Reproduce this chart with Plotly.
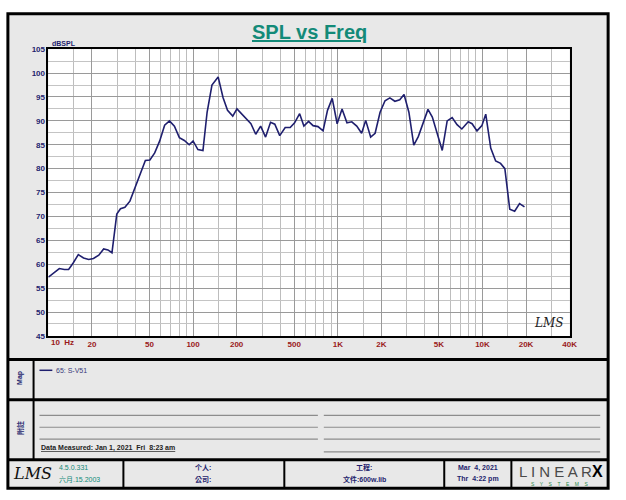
import numpy as np
import plotly.graph_objects as go

# ---------------- data ----------------
freq_hz = [10.0, 11.0, 11.9, 12.9, 13.8, 14.8, 16.1, 17.5, 19.0, 20.5, 22.3, 24.1, 25.8, 27.5,
           29.7, 31.5, 33.8, 36.6, 40.7, 44.0, 46.8, 50.3, 54.3, 58.8, 63.6, 68.7, 74.3, 80.4,
           87.0, 94.0, 100, 108, 117, 125, 135, 149, 161, 173, 188, 201, 217, 235, 251, 271,
           293, 317, 343, 367, 397, 433, 469, 503, 545, 583, 628, 675, 730, 791, 849, 915,
           990, 1070, 1157, 1250, 1352, 1461, 1559, 1687, 1811, 1960, 2120, 2290, 2480, 2680,
           2870, 3100, 3350, 3600, 3880, 4200, 4500, 5270, 5700, 6170, 6670, 7200, 7970, 8470,
           9160, 9900, 10530, 11400, 12330, 13330, 14270, 15430, 16680, 18030, 19500]
spl_db = [57.3, 58.3, 59.1, 58.9, 58.9, 60.2, 62.0, 61.3, 61.0, 61.2, 61.9, 63.2, 63.0, 62.4,
          70.5, 71.6, 71.9, 73.2, 76.9, 79.6, 81.7, 81.8, 83.3, 85.8, 89.1, 90.0, 88.9, 86.5,
          85.9, 85.0, 85.8, 84.0, 83.8, 91.8, 97.5, 99.2, 94.9, 92.2, 91.0, 92.5, 91.5, 90.3, 89.4, 87.2,
          88.9, 86.6, 89.7, 89.3, 86.9, 88.6, 88.6, 89.6, 91.5, 88.9, 89.9, 89.0, 88.8, 87.9, 92.2, 94.7,
          89.4, 92.5, 89.6, 89.8, 88.9, 87.4, 90.1, 86.6, 87.4, 91.8, 94.2, 94.8, 94.1, 94.4,
          95.5, 91.8, 84.9, 86.7, 89.6, 92.4, 90.8, 83.8, 90.0, 90.7, 89.2, 88.3, 89.8, 89.4,
          87.9, 89.0, 91.4, 84.3, 81.6, 81.1, 80.0, 71.5, 71.1, 72.7, 72.0]

x_tick_vals = [10, 20, 50, 100, 200, 500, 1000, 2000, 5000, 10000, 20000, 40000]
x_tick_text = ["", "20", "50", "100", "200", "500", "1K", "2K", "5K", "10K", "20K", "40K"]
x_minor_vals = [15, 30, 40, 60, 70, 80, 90,
                150, 300, 400, 600, 700, 800, 900,
                1500, 3000, 4000, 6000, 7000, 8000, 9000,
                15000, 30000]
y_tick_vals = list(range(45, 106, 5))

series_name = "65: S-V51"

W, H = 626, 500
def px(x):
    return x / W
def py(y):
    return 1 - y / H

NAVY = "#1f1f6e"
RED = "#9a1a1a"
TEAL = "#138a78"
FONT = "Liberation Sans, Arial, Noto Sans CJK TC, sans-serif"

fig = go.Figure()
fig.add_trace(go.Scatter(x=freq_hz, y=spl_db, mode="lines", name=series_name,
                         line=dict(color=NAVY, width=1.6), showlegend=False))

fig.update_layout(
    width=W, height=H, margin=dict(l=0, r=0, t=0, b=0),
    paper_bgcolor="white", plot_bgcolor="white",
    font=dict(family=FONT),
    xaxis=dict(type="log", range=[1, np.log10(40000)], domain=[px(49), px(577)],
               tickvals=x_tick_vals, ticktext=x_tick_text,
               tickfont=dict(size=8, color=RED, weight="bold"),
               showgrid=True, gridcolor="#9a9a9a", gridwidth=1,
               minor=dict(tickvals=x_minor_vals, showgrid=True, gridcolor="#bdbdbd", gridwidth=1),
               showline=True, linecolor="black", linewidth=1.5, mirror=True,
               ticks="", zeroline=False, fixedrange=True),
    yaxis=dict(range=[45, 105], domain=[py(338), py(46)],
               tickvals=y_tick_vals,
               tickfont=dict(size=8, color=NAVY, weight="bold"),
               showgrid=True, gridcolor="#9a9a9a", gridwidth=1,
               minor=dict(dtick=2.5, showgrid=True, gridcolor="#c4c4c4", gridwidth=1),
               showline=True, linecolor="black", linewidth=1.5, mirror=True,
               ticks="", zeroline=False, fixedrange=True),
)

shapes = []
# gray panel background
shapes.append(dict(type="rect", xref="paper", yref="paper", x0=px(8), x1=px(616), y0=py(493), y1=py(10),
                   fillcolor="#e8e8e8", line=dict(width=0), layer="below"))
# white plot area
shapes.append(dict(type="rect", xref="paper", yref="paper", x0=px(49), x1=px(577), y0=py(338), y1=py(46),
                   fillcolor="white", line=dict(width=0), layer="below"))
# outer frame
shapes.append(dict(type="rect", xref="paper", yref="paper", x0=px(8), x1=px(616), y0=py(493), y1=py(10),
                   line=dict(color="black", width=3), layer="above"))
# horizontal dividers
for yy in [362, 403, 464]:
    shapes.append(dict(type="line", xref="paper", yref="paper", x0=px(8), x1=px(616), y0=py(yy), y1=py(yy),
                       line=dict(color="black", width=3), layer="above"))
# left column divider
shapes.append(dict(type="line", xref="paper", yref="paper", x0=px(34), x1=px(34), y0=py(362), y1=py(464),
                   line=dict(color="black", width=2), layer="above"))
# footer dividers
for xx in [125, 288, 450, 518]:
    shapes.append(dict(type="line", xref="paper", yref="paper", x0=px(xx), x1=px(xx), y0=py(464), y1=py(493),
                       line=dict(color="black", width=2), layer="above"))
# note lines
for yy in [419, 431, 443]:
    shapes.append(dict(type="line", xref="paper", yref="paper", x0=px(40), x1=px(322), y0=py(yy), y1=py(yy),
                       line=dict(color="#8c8c8c", width=1.2), layer="above"))
for yy in [419, 431, 443, 456]:
    shapes.append(dict(type="line", xref="paper", yref="paper", x0=px(328), x1=px(608), y0=py(yy), y1=py(yy),
                       line=dict(color="#8c8c8c", width=1.2), layer="above"))
# legend sample line
shapes.append(dict(type="line", xref="paper", yref="paper", x0=px(40), x1=px(53), y0=py(373), y1=py(373),
                   line=dict(color=NAVY, width=1.5), layer="above"))
fig.update_layout(shapes=shapes)

def ann(text, x, y, size=7, color=NAVY, xanchor="center", bold=False, italic=False, family=FONT, angle=0):
    return dict(text=text, x=px(x), y=py(y), xref="paper", yref="paper", showarrow=False,
                xanchor=xanchor, yanchor="middle", textangle=angle,
                font=dict(size=size, color=color, family=family,
                          weight="bold" if bold else "normal",
                          style="italic" if italic else "normal"))

anns = [
    ann("<u>SPL vs Freq</u>", 313, 29, size=20, color=TEAL, bold=True),
    ann("dBSPL", 51, 40, size=7, color=NAVY, xanchor="left", bold=True),
    dict(text="10  Hz", x=np.log10(x_tick_vals[0]), xref="x", y=py(345), yref="paper", showarrow=False,
         xanchor="left", yanchor="middle", xshift=1,
         font=dict(size=8, color=RED, weight="bold", family=FONT)),
    ann("LMS", 556, 325, size=12, color="#222222", italic=True, family="DejaVu Serif, serif"),
    ann(series_name, 55, 373, size=7, color="#3a3a7a", xanchor="left"),
    ann("Map", 20, 381, size=7, color=NAVY, bold=True, angle=-90),
    ann("附註", 20, 432, size=7, color=NAVY, bold=True, angle=-90),
    ann("<u>Data Measured: Jan 1, 2021  Fri  8:23 am</u>", 40, 452, size=7, color="#222222", xanchor="left", bold=True),
    ann("LMS", 33, 478, size=16, color="#111111", italic=True, family="DejaVu Serif, serif"),
    ann("4.5.0.331", 58, 472, size=7, color=TEAL, xanchor="left"),
    ann("六月.15.2003", 58, 484, size=7, color=TEAL, xanchor="left"),
    ann("个人:", 206, 472, size=7, color=NAVY, bold=True),
    ann("公司:", 206, 484, size=7, color=NAVY, bold=True),
    ann("工程:", 369, 472, size=7, color=NAVY, bold=True),
    ann("文件:600w.lib", 369, 484, size=7, color=NAVY, bold=True),
    ann("Mar  4, 2021", 484, 472, size=7, color=NAVY, bold=True),
    ann("Thr  4:22 pm", 484, 484, size=7, color=NAVY, bold=True),
    ann("L I N E A R", 524, 476, size=15, color="#4a4a4a", xanchor="left"),
    ann("X", 613, 476, size=16, color="black", xanchor="right", bold=True),
    ann("S    Y    S    T    E    M    S", 567, 489, size=5, color="#2a8a4a"),
]
fig.update_layout(annotations=anns)

fig.write_html("out.html")
